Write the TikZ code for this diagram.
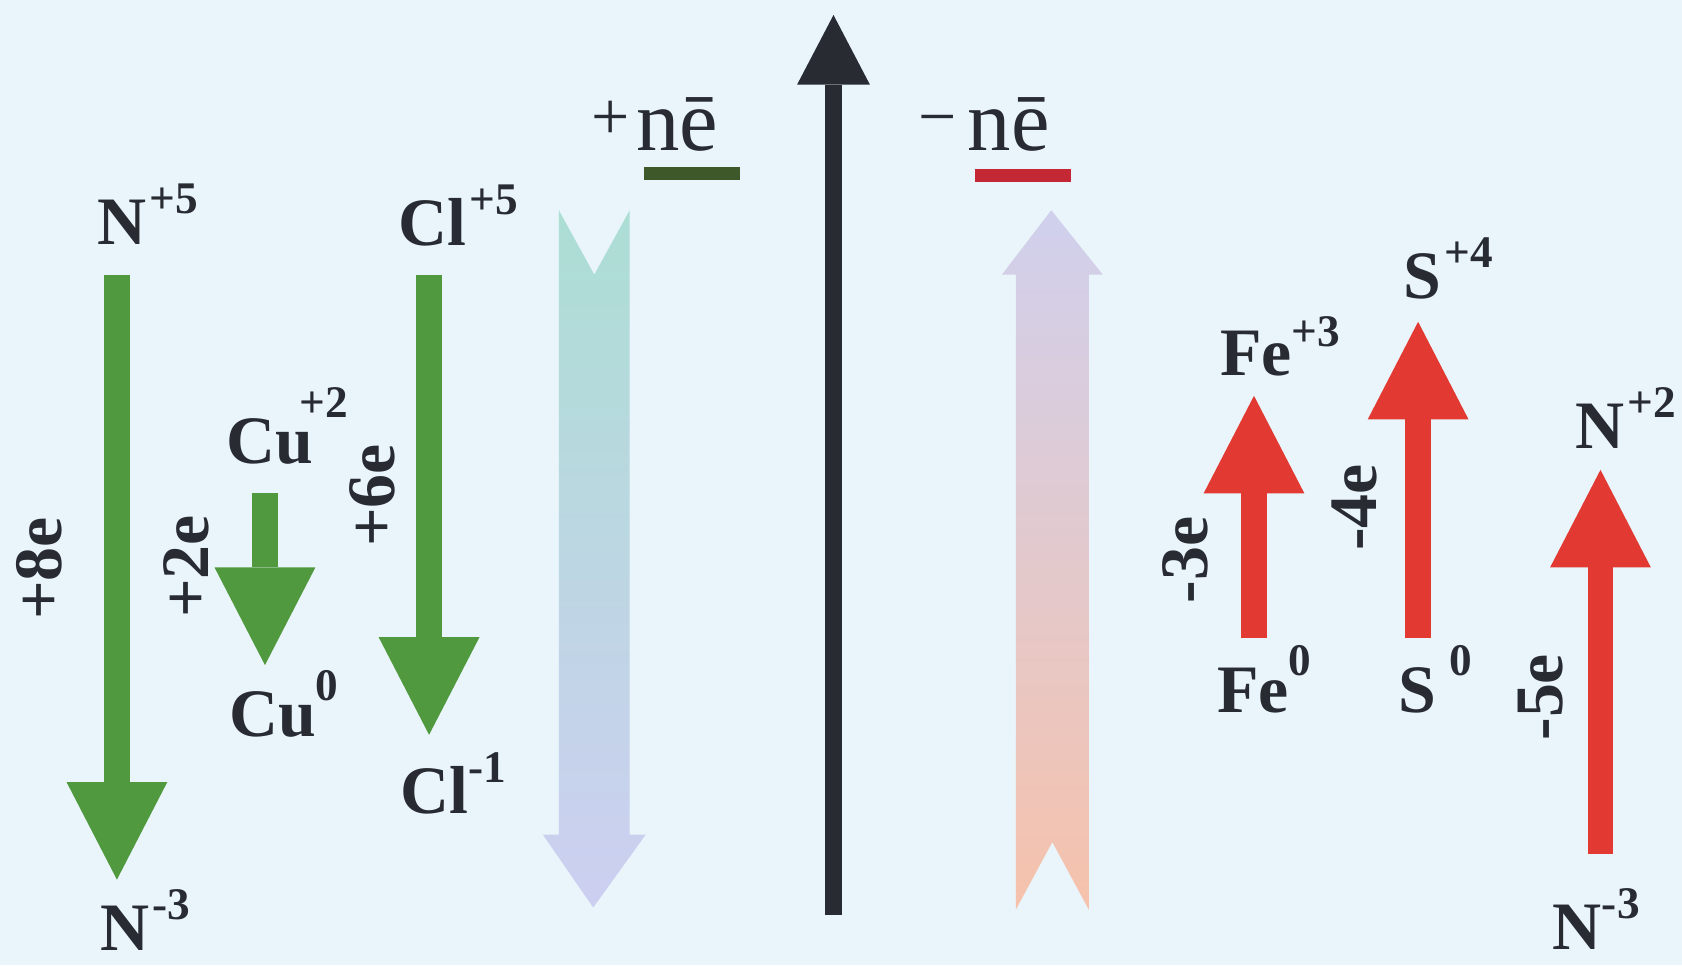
\documentclass[tikz,border=0pt]{standalone}
\usepackage{fontspec}
\setmainfont{Liberation Serif}
\usetikzlibrary{arrows.meta}

\definecolor{paper}{RGB}{233,245,250}
\definecolor{ink}{RGB}{40,44,50}
\definecolor{gaingreen}{RGB}{80,153,62}
\definecolor{lossred}{RGB}{226,58,50}
\definecolor{ulgreen}{RGB}{62,88,42}
\definecolor{ulred}{RGB}{196,40,52}
\definecolor{fteal}{RGB}{172,222,212}
\definecolor{fblue}{RGB}{192,213,226}
\definecolor{flav}{RGB}{205,207,241}
\definecolor{flavup}{RGB}{208,208,237}
\definecolor{fpink}{RGB}{230,207,224}
\definecolor{fpeach}{RGB}{246,194,172}

% oxidation state as a raised small label
\newcommand\oxs[2][2.9mm]{\raisebox{#1}{\fontsize{12}{12}\selectfont #2}}

\begin{document}
\begin{tikzpicture}[
  x=0.1mm, y=-0.1mm,
  lbl/.style  = {font=\fontsize{18}{18}\selectfont\bfseries, text=ink,
                 inner sep=0pt, anchor=base west},
  ecnt/.style = {font=\fontsize{18}{18}\selectfont\bfseries, text=ink,
                 inner sep=0pt, rotate=90},
  ne/.style   = {font=\fontsize{23}{23}\selectfont, text=ink,
                 inner sep=0pt, anchor=base west},
  fat/.style  = {line width=2.4mm,
                 -{Triangle[length=9.1mm, width=9.4mm, line width=0pt]}},
  gain/.style = {fat, draw=gaingreen},
  loss/.style = {fat, draw=lossred},
]

% ================= background ==========================================
\fill[paper] (0,0) rectangle (1568,900);

% ================= axis and headings ===================================
\coordinate (axb) at (777,853);
\coordinate (axt) at (777,14);
\draw[ink, line width=1.6mm,
      -{Triangle[length=6.5mm, width=6.8mm, line width=0pt]}] (axb) -- (axt);

\node[ne] (plus)  at (551,140) {{\fontsize{18}{18}\selectfont\raisebox{1mm}{+}}\kern0.6mm nē};
\node[ne] (minus) at (856,140) {{\fontsize{18}{18}\selectfont\raisebox{1mm}{−}}\kern1mm nē};
\draw[ulgreen, line width=1.2mm] (600,162) -- (690,162);
\draw[ulred,   line width=1.2mm] (909,164) -- (998,164);

% faint direction arrows
\shade[top color=fteal, middle color=fblue, bottom color=flav]
  (521,196) -- (554,256) -- (587,196) -- (587,778) -- (602,778)
  -- (553,846) -- (506,778) -- (521,778) -- cycle;
\shade[top color=flavup, middle color=fpink, bottom color=fpeach]
  (980,196) -- (1028,256) -- (1015,256) -- (1015,848) -- (981,785)
  -- (947,848) -- (947,256) -- (934,256) -- cycle;

% ================= gain of electrons ===================================
\node[lbl] (n5)  at (90,228)  {N\kern0.3mm\oxs{+5}};
\node[lbl] (n3)  at (93,886)  {N\kern0.3mm\oxs{-3}};
\node[lbl] (cu2) at (210,432) {Cu\kern-1.2mm\oxs[4.3mm]{+2}};
\node[lbl] (cu0) at (213,687) {Cu\oxs[3.4mm]{0}};
\node[lbl] (cl5) at (371,229) {Cl\kern0.3mm\oxs{+5}};
\node[lbl] (cl1) at (373,758) {Cl\oxs{-1}};

\node[ecnt] (e8) at (37,530)  {+8e};
\node[ecnt] (e2) at (174,528) {+2e};
\node[ecnt] (e6) at (347,462) {+6e};

\coordinate (n5a)  at (109,256); \coordinate (n5b)  at (109,820);
\coordinate (cu2a) at (247,460); \coordinate (cu2b) at (247,620);
\coordinate (cl5a) at (400,256); \coordinate (cl5b) at (400,685);
\draw[gain] (n5a)  -- (n5b);
\draw[gain] (cu2a) -- (cu2b);
\draw[gain] (cl5a) -- (cl5b);

% ================= loss of electrons ===================================
\node[lbl] (fe3) at (1137,350) {Fe\oxs[2.7mm]{+3}};
\node[lbl] (fe0) at (1134,664) {Fe\oxs[3.4mm]{0}};
\node[lbl] (s4)  at (1308,278) {S\kern0.3mm\oxs{+4}};
\node[lbl] (s0)  at (1303,664) {S\kern1.2mm\oxs[3.4mm]{0}};
\node[lbl] (n2)  at (1468,418) {N\kern0.3mm\oxs{+2}};
\node[lbl] (nm3) at (1447,885) {N\oxs{-3}};

\node[ecnt] (e3) at (1105,522) {-3e};
\node[ecnt] (e4) at (1263,473) {-4e};
\node[ecnt] (e5) at (1436,650) {-5e};

\coordinate (fe0a) at (1169,595); \coordinate (fe0b) at (1169,369);
\coordinate (s0a)  at (1322,595); \coordinate (s0b)  at (1322,300);
\coordinate (nm3a) at (1492,796); \coordinate (nm3b) at (1492,438);
\draw[loss] (fe0a) -- (fe0b);
\draw[loss] (s0a)  -- (s0b);
\draw[loss] (nm3a) -- (nm3b);

\end{tikzpicture}
\end{document}
